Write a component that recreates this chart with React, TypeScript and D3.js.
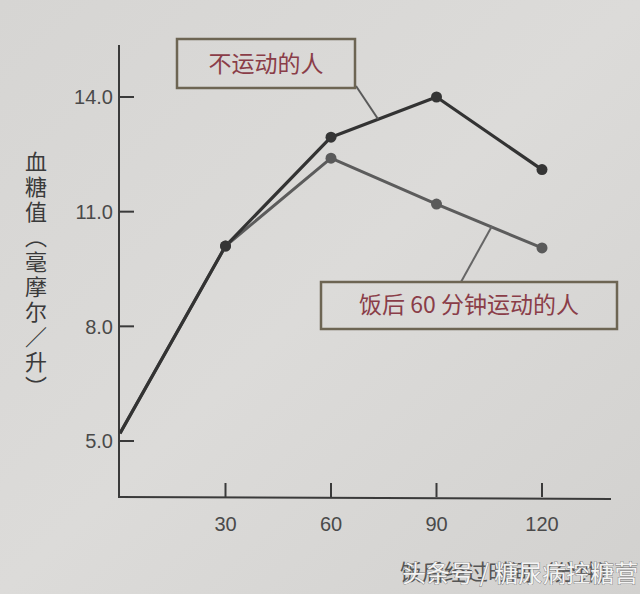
import React from "react";
import * as d3 from "d3";

const minutes = [0, 30, 60, 90, 120];
const noExercise = [5.2, 10.1, 12.95, 14.0, 12.1];
const exerciseMinutes = [0, 30, 60, 90, 120];
const exercise = [5.2, 10.1, 12.4, 11.2, 10.05];
const yTicks = [5.0, 8.0, 11.0, 14.0];
const xTicks = [30, 60, 90, 120];
const yLabel = "血糖值（毫摩尔／升）";
const seriesNames = ["不运动的人", "饭后 60 分钟运动的人"];
const xLabel = "饭后经过时间（分钟）";
const watermark = "头条号 / 糖尿病控糖营";

const W = 640;
const H = 594;

export default function App() {
  const x = d3.scaleLinear().domain([0, 120]).range([120, 542]);
  const y = d3.scaleLinear().domain([5, 14]).range([441, 97]);
  const axisY = 497;
  const axisX = 119;

  const line = d3
    .line<number>()
    .x((_, i) => x(minutes[i]))
    .y((d) => y(d));
  const line2 = d3
    .line<number>()
    .x((_, i) => x(exerciseMinutes[i]))
    .y((d) => y(d));

  const cjk = "'Noto Sans CJK SC', 'Noto Sans', sans-serif";
  const num = "'Liberation Sans', Arial, sans-serif";

  return (
    <div style={{ position: "fixed", left: 0, top: 0, width: W, height: H }}>
      <svg width={W} height={H} viewBox={`0 0 ${W} ${H}`}>
        <defs>
          <linearGradient id="paper" x1="0" y1="0" x2="1" y2="1">
            <stop offset="0" stopColor="#d6d5d3" />
            <stop offset="0.5" stopColor="#dcdbd9" />
            <stop offset="1" stopColor="#d2d1cf" />
          </linearGradient>
        </defs>
        <rect x={0} y={0} width={W} height={H} fill="url(#paper)" />

        {/* axes */}
        <line x1={axisX} y1={45} x2={axisX} y2={axisY} stroke="#3a3a3a" strokeWidth={2} />
        <line x1={axisX - 1} y1={axisY} x2={611} y2={axisY + 2} stroke="#3a3a3a" strokeWidth={2} />

        {yTicks.map((t) => (
          <g key={t}>
            <line x1={axisX} x2={axisX + 15} y1={y(t)} y2={y(t)} stroke="#3a3a3a" strokeWidth={2} />
            <text
              x={113}
              y={y(t)}
              dy="0.36em"
              textAnchor="end"
              fontFamily={num}
              fontSize={20}
              fill="#4a4a4a"
            >
              {t.toFixed(1)}
            </text>
          </g>
        ))}

        {xTicks.map((t) => (
          <g key={t}>
            <line x1={x(t)} x2={x(t)} y1={axisY - 14} y2={axisY} stroke="#3a3a3a" strokeWidth={2} />
            <text
              x={x(t)}
              y={531}
              textAnchor="middle"
              fontFamily={num}
              fontSize={20}
              fill="#4a4a4a"
            >
              {t}
            </text>
          </g>
        ))}

        {/* y label, vertical */}
        <text
          x={36}
          y={151}
          fontFamily={cjk}
          fontSize={22}
          fill="#3a3a3a"
          letterSpacing={3}
          style={{ writingMode: "vertical-rl" } as React.CSSProperties}
        >
          {yLabel}
        </text>

        {/* series */}
        <path d={line2(exercise) || ""} fill="none" stroke="#5c5c5c" strokeWidth={3} strokeLinejoin="round" />
        <path d={line(noExercise) || ""} fill="none" stroke="#333" strokeWidth={3.2} strokeLinejoin="round" />
        {exercise.map((v, i) =>
          i > 0 ? <circle key={"e" + i} cx={x(exerciseMinutes[i])} cy={y(v)} r={5.5} fill="#5a5a5a" /> : null
        )}
        {noExercise.map((v, i) =>
          i > 0 ? <circle key={"n" + i} cx={x(minutes[i])} cy={y(v)} r={5.5} fill="#353535" /> : null
        )}

        {/* callout 1 */}
        <line x1={356} y1={86} x2={378} y2={119} stroke="#5a5a5a" strokeWidth={2} />
        <rect x={177} y={39} width={178} height={49} fill="none" stroke="#6d6553" strokeWidth={2.5} />
        <text x={266} y={64} dy="0.36em" textAnchor="middle" fontFamily={cjk} fontSize={23} fill="#8a3d48">
          {seriesNames[0]}
        </text>

        {/* callout 2 */}
        <line x1={461} y1={282} x2={492} y2={226} stroke="#666" strokeWidth={2} />
        <rect x={321} y={282} width={296} height={47} fill="none" stroke="#6d6553" strokeWidth={2.5} />
        <text x={469} y={305} dy="0.36em" textAnchor="middle" fontFamily={cjk} fontSize={23} fill="#8a3d48">
          {seriesNames[1]}
        </text>

        {/* x label partly covered by watermark */}
        <text x={400} y={572} dy="0.36em" fontFamily={cjk} fontSize={22} fill="#555">
          {xLabel}
        </text>
        <text
          x={402}
          y={573}
          dy="0.36em"
          fontFamily={cjk}
          fontSize={24}
          fill="#f4f4f4"
          stroke="#777"
          strokeWidth={0.8}
          paintOrder="stroke"
        >
          {watermark}
        </text>
      </svg>
    </div>
  );
}
